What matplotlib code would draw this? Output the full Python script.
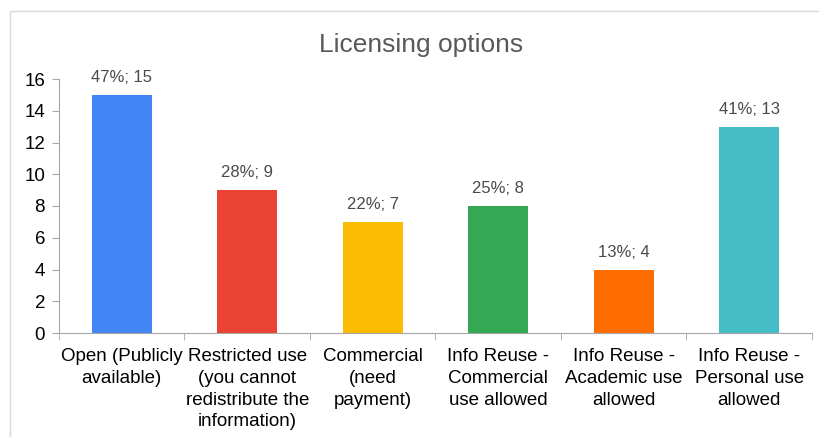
import matplotlib
matplotlib.use("Agg")
import matplotlib.pyplot as plt
from matplotlib.patches import Rectangle
import numpy as np

# ── Data ─────────────────────────────────────────────
categories = [
    "Open (Publicly\navailable)",
    "Restricted use\n(you cannot\nredistribute the\ninformation)",
    "Commercial\n(need\npayment)",
    "Info Reuse -\nCommercial\nuse allowed",
    "Info Reuse -\nAcademic use\nallowed",
    "Info Reuse -\nPersonal use\nallowed",
]
counts = [15, 9, 7, 8, 4, 13]
percents = [47, 28, 22, 25, 13, 41]
colors = ["#4285f4", "#ea4335", "#fbbc04", "#34a853", "#ff6d01", "#46bdc6"]

plt.rcParams["font.family"] = ["Liberation Sans", "DejaVu Sans"]

W, H = 819, 437
fig = plt.figure(figsize=(W / 100, H / 100), dpi=100)

# chart frame
fig.patches.append(Rectangle((10 / W, -0.1), 1.2, 1 - 11 / H + 0.1,
                             transform=fig.transFigure, fill=False,
                             edgecolor="#d9d9d9", linewidth=1.0))

ax = fig.add_axes([59 / W, 1 - 333 / H, (812 - 59) / W, (333 - 79) / H])
x = np.arange(len(categories))
ax.bar(x, counts, width=0.48, color=colors, zorder=2)

for xi, c, p in zip(x, counts, percents):
    ax.annotate(f"{p}%; {c}", (xi, c), xytext=(0, 7), textcoords="offset points",
                ha="center", va="bottom", fontsize=12, color="#4a4a4a")

ax.set_xlim(-0.5, len(categories) - 0.5)
ax.set_ylim(0, 16)
ax.set_yticks(range(0, 17, 2))
ax.set_xticks(x)
ax.set_xticklabels(categories, fontsize=13.5, linespacing=1.36)
ax.set_xticks(np.arange(-0.5, len(categories)), minor=True)
ax.tick_params(axis="x", which="major", length=0, pad=11)
ax.tick_params(axis="x", which="minor", length=5, color="#a6a6a6")
ax.tick_params(axis="y", length=5, color="#a6a6a6", labelsize=13.5, pad=5)

for s in ("top", "right"):
    ax.spines[s].set_visible(False)
for s in ("left", "bottom"):
    ax.spines[s].set_color("#a6a6a6")

fig.text(421 / W, 1 - 45 / H, "Licensing options", ha="center", va="center",
         fontsize=19, color="#595959")

fig.savefig("out.png", dpi=100)
